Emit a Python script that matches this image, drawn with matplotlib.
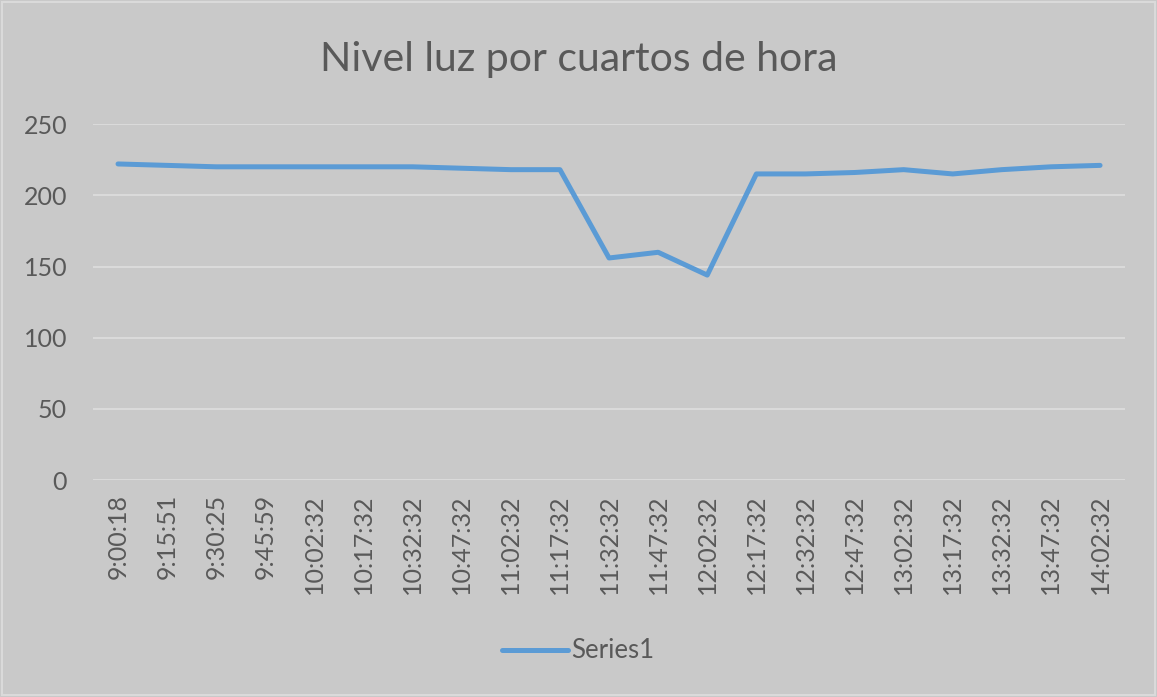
import matplotlib
matplotlib.use("Agg")
import matplotlib.pyplot as plt
from matplotlib.patches import Rectangle

# horas de medicion y nivel de luz
horas = ["9:00:18", "9:15:51", "9:30:25", "9:45:59", "10:02:32", "10:17:32",
         "10:32:32", "10:47:32", "11:02:32", "11:17:32", "11:32:32", "11:47:32",
         "12:02:32", "12:17:32", "12:32:32", "12:47:32", "13:02:32", "13:17:32",
         "13:32:32", "13:47:32", "14:02:32"]
nivel = [222, 221, 220, 220, 220, 220, 220, 219, 218, 218, 156, 160,
         144, 215, 215, 216, 218, 215, 218, 220, 221]

fondo = "#c9c9c9"
texto = "#595959"

plt.rcParams['font.family'] = ['Lato', 'DejaVu Sans']

fig = plt.figure(figsize=(11.57, 6.97), dpi=100, facecolor=fondo)
ax = fig.add_axes([0.0808, 0.311, 0.8912, 0.511])
ax.set_facecolor(fondo)

x = list(range(len(horas)))
ax.plot(x, nivel, color="#5b9bd5", linewidth=3.6, solid_capstyle="round",
        solid_joinstyle="round", label="Series1", zorder=3)

ax.set_xlim(-0.5, len(horas) - 0.5)
ax.set_ylim(0, 250)
ax.set_yticks(range(0, 251, 50))
ax.yaxis.grid(True, color="#dedede", linewidth=1.2)
ax.set_axisbelow(True)
for s in ax.spines.values():
    s.set_visible(False)

ax.set_xticks(x)
ax.set_xticklabels(horas, rotation=90)
ax.tick_params(axis="both", length=0, labelsize=18, colors=texto)
ax.tick_params(axis="x", pad=10)
ax.tick_params(axis="y", pad=19)

fig.text(0.5, 0.915, "Nivel luz por cuartos de hora", ha="center", va="center",
         fontsize=29.5, color=texto)

fig.legend(loc="center", bbox_to_anchor=(0.5, 0.066), frameon=False,
           fontsize=18.5, labelcolor=texto, handlelength=2.55, handletextpad=0.15)

fig.patches.append(Rectangle((0.002, 0.003), 0.996, 0.994, transform=fig.transFigure,
                             fill=False, edgecolor="#dadada", linewidth=1.5))

plt.savefig("out.png", dpi=100, facecolor=fondo)
